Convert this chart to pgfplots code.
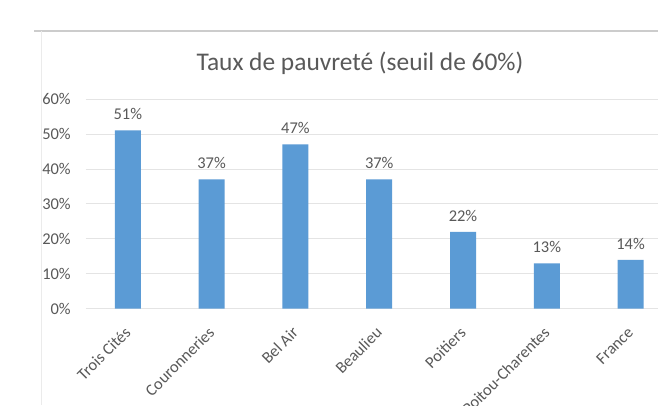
\documentclass[border=0pt]{standalone}
\usepackage{pgfplots}
\pgfplotsset{compat=1.18}
\usepackage{fontspec}
\setmainfont{Carlito}
\definecolor{barblue}{HTML}{5B9BD5}
\definecolor{txtgray}{HTML}{595959}
\definecolor{gridgray}{HTML}{E4E4E4}

\begin{document}
\begin{tikzpicture}[x=1bp,y=1bp]
  \clip (0,0) rectangle (658,405);
  \fill[white] (0,0) rectangle (658,405);
  % chart frame (cropped)
  \draw[color=black!20, line width=1.2bp] (34,374) -- (658,374);
  \draw[color=black!8] (41.5,0) -- (41.5,374);
  % title
  \node[txtgray, font=\fontsize{25.5}{30}\selectfont] at (360,342) {Taux de pauvreté (seuil de 60\%)};
  \begin{axis}[
      at={(85.9bp,96.3bp)}, anchor=south west,
      scale only axis, width=572.1bp, height=209.7bp,
      xmin=-0.5, xmax=6.327, ymin=0, ymax=60,
      ybar, bar width=26bp,
      axis line style={draw=none},
      major tick length=0pt,
      ymajorgrids, major grid style={gridgray, line width=0.8bp},
      ytick={0,10,...,60},
      yticklabels={0\%,10\%,20\%,30\%,40\%,50\%,60\%},
      yticklabel style={txtgray, font=\fontsize{16.5}{19}\selectfont, anchor=east, inner sep=0pt, xshift=-15bp},
      xtick=data,
      xticklabels={Trois Cités,Couronneries,Bel Air,Beaulieu,Poitiers,Poitou-Charentes,France},
      xticklabel style={txtgray, font=\fontsize{16.5}{19}\selectfont, inner sep=0pt,
                        xshift=0bp, yshift=-21bp, rotate=45, anchor=east},
      /pgf/number format/assume math mode=true,
      nodes near coords={\pgfmathprintnumber{\pgfplotspointmeta}\%},
      every node near coord/.append style={txtgray, font=\fontsize{16.5}{19}\selectfont, anchor=center, yshift=16bp},
    ]
    \addplot[fill=barblue, draw=none] coordinates {
      (0,51) (1,37) (2,47) (3,37) (4,22) (5,13) (6,14)
    };
  \end{axis}
\end{tikzpicture}
\end{document}
